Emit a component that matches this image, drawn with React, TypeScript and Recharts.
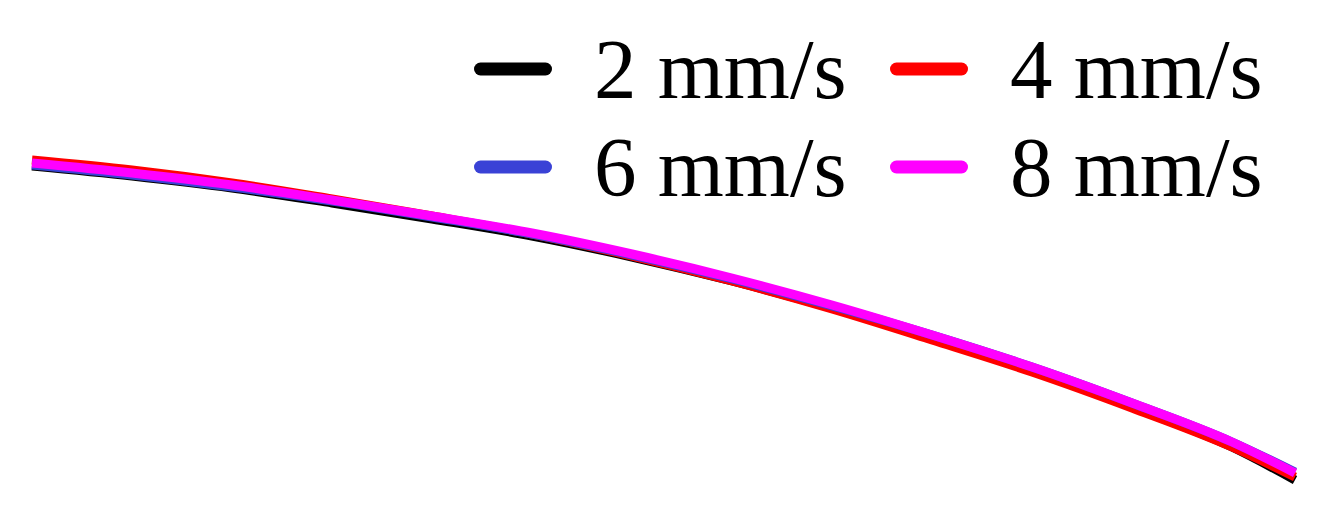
import React from 'react';
import { LineChart, Line, XAxis, YAxis, Legend } from 'recharts';

// Position along the part (arbitrary units) and the deflection profile per scan speed
const position = [0, 1, 2, 3, 4, 5, 6, 7, 8, 9, 10, 11, 12, 12.63];
const deflection2 = [-1.66, -1.76, -1.88, -2.03, -2.19, -2.36, -2.57, -2.81, -3.08, -3.38, -3.7, -4.07, -4.47, -4.8];
const deflection4 = [-1.6, -1.7, -1.83, -1.99, -2.16, -2.34, -2.56, -2.81, -3.09, -3.4, -3.72, -4.08, -4.47, -4.77];
const deflection6 = [-1.65, -1.75, -1.87, -2.01, -2.17, -2.34, -2.55, -2.79, -3.06, -3.35, -3.67, -4.03, -4.42, -4.72];
const deflection8 = [-1.63, -1.73, -1.85, -2.0, -2.16, -2.33, -2.54, -2.78, -3.05, -3.35, -3.67, -4.03, -4.42, -4.73];

const seriesNames = ['2 mm/s', '4 mm/s', '6 mm/s', '8 mm/s'];
const seriesColors = ['#000000', '#ff0000', '#3a42d6', '#ff00ff'];

const chartData = position.map((x, i) => ({
  x,
  s2: deflection2[i],
  s4: deflection4[i],
  s6: deflection6[i],
  s8: deflection8[i]
}));

type LegendItem = { value?: string; color?: string };

const SpeedLegend = ({ payload }: { payload?: LegendItem[] }) => (
  <div style={{ display: 'grid', gridTemplateColumns: '416px 416px' }}>
    {(payload || []).map((item) => (
      <div
        key={item.value}
        style={{ height: 98, display: 'flex', alignItems: 'center' }}
      >
        <svg width={78} height={16} style={{ flex: 'none' }}>
          <line
            x1={6.5}
            y1={8}
            x2={71.5}
            y2={8}
            stroke={item.color}
            strokeWidth={13}
            strokeLinecap="round"
          />
        </svg>
        <span
          style={{
            marginLeft: 42,
            fontFamily: '"Liberation Serif", serif',
            fontSize: 85,
            lineHeight: '82px',
            color: '#000',
            whiteSpace: 'nowrap'
          }}
        >
          {item.value}
        </span>
      </div>
    ))}
  </div>
);

export default function App() {
  return (
    <div style={{ position: 'absolute', left: 0, top: 0, width: 1343, height: 531, background: '#fff' }}>
      <LineChart
        width={1343}
        height={531}
        data={chartData}
        margin={{ top: 0, right: 48, left: 32, bottom: 0 }}
      >
        <XAxis dataKey="x" type="number" domain={[0, 12.63]} hide />
        <YAxis type="number" domain={[-5.31, 0]} hide />
        <Legend
          layout="vertical"
          align="center"
          verticalAlign="middle"
          wrapperStyle={{ top: 20, left: 474, width: 840, height: 196 }}
          content={<SpeedLegend />}
        />
        {['s2', 's4', 's6', 's8'].map((key, i) => (
          <Line
            key={key}
            type="monotone"
            dataKey={key}
            name={seriesNames[i]}
            stroke={seriesColors[i]}
            strokeWidth={9}
            dot={false}
            activeDot={false}
            isAnimationActive={false}
          />
        ))}
      </LineChart>
    </div>
  );
}
